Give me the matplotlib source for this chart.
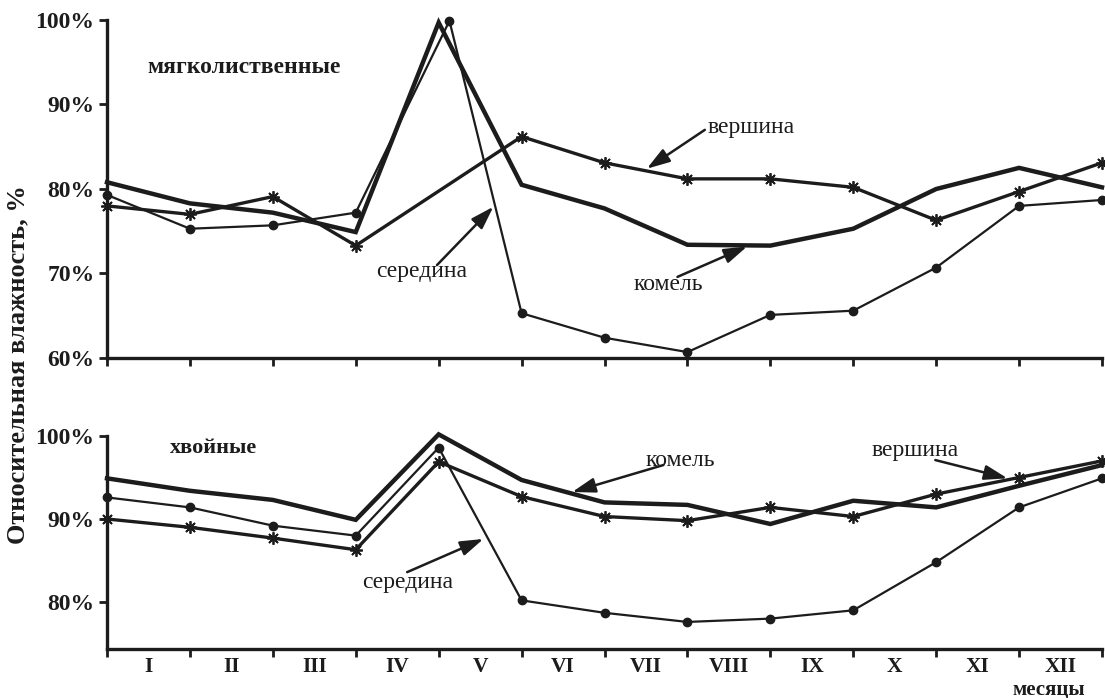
import matplotlib.pyplot as plt

# ----------------------------
# Data (month boundaries 0..12)
# ----------------------------
months = ["I", "II", "III", "IV", "V", "VI", "VII", "VIII", "IX", "X", "XI", "XII"]

# мягколиственные
soft_x = [0, 1, 2, 3, 4, 5, 6, 7, 8, 9, 10, 11, 12]
soft_komel = [80.8, 78.3, 77.2, 74.9, 99.7, 80.5, 77.7, 73.4, 73.3, 75.3, 80.0, 82.5, 80.2]
soft_mid_x = [0, 1, 2, 3, 4.13, 5, 6, 7, 8, 9, 10, 11, 12]
soft_mid = [79.3, 75.3, 75.7, 77.2, 99.9, 65.3, 62.4, 60.7, 65.1, 65.6, 70.7, 78.0, 78.7]
soft_top_x = [0, 1, 2, 3, 5, 6, 7, 8, 9, 10, 11, 12]
soft_top = [78.0, 77.0, 79.1, 73.3, 86.2, 83.1, 81.2, 81.2, 80.2, 76.3, 79.7, 83.1]

# хвойные
con_x = [0, 1, 2, 3, 4, 5, 6, 7, 8, 9, 10, 11, 12]
con_komel = [94.9, 93.4, 92.3, 89.9, 100.2, 94.7, 92.0, 91.7, 89.4, 92.2, 91.4, 94.0, 96.5]
con_mid = [92.6, 91.4, 89.2, 88.0, 98.6, 80.2, 78.7, 77.6, 78.0, 79.0, 84.8, 91.4, 94.9]
con_top = [90.0, 89.0, 87.7, 86.3, 96.9, 92.7, 90.3, 89.8, 91.4, 90.3, 93.0, 95.0, 97.0]

INK = "#1c1c1c"
plt.rcParams["font.family"] = ["Liberation Serif", "DejaVu Serif"]

fig = plt.figure(figsize=(11.05, 6.98), dpi=100)
ax1 = fig.add_axes([107 / 1105, 1 - 358 / 698, 995 / 1105, 338 / 698])
ax2 = fig.add_axes([107 / 1105, 1 - 649 / 698, 995 / 1105, 213 / 698])

star = (8, 2, 0)


def style_axis(ax, ylim, yticks):
    ax.set_xlim(0, 12)
    ax.set_ylim(*ylim)
    for s in ["top", "right"]:
        ax.spines[s].set_visible(False)
    for s in ["left", "bottom"]:
        ax.spines[s].set_linewidth(2.4)
        ax.spines[s].set_color(INK)
    ax.set_xticks(range(13))
    ax.set_yticks(yticks)
    ax.set_yticklabels([f"{v}%" for v in yticks])
    ax.tick_params(axis="both", which="major", direction="out", length=6,
                   width=2, color=INK)
    ax.tick_params(axis="y", labelsize=17, pad=3, labelcolor=INK)
    for lab in ax.get_yticklabels():
        lab.set_fontweight("bold")


def draw(ax, xk, yk, xm, ym, xt, yt):
    ax.plot(xk, yk, color=INK, lw=3.2, clip_on=False, zorder=3,
            solid_joinstyle="miter")
    ax.plot(xm, ym, color=INK, lw=1.6, marker="o", ms=6, clip_on=False, zorder=4)
    ax.plot(xt, yt, color=INK, lw=2.4, marker=star, ms=9, mew=1.3,
            clip_on=False, zorder=4)


def note(ax, text, xy, xytext, tail):
    ax.text(xytext[0], xytext[1], text, ha="center", va="center",
            fontsize=17, color=INK)
    ax.annotate("", xy=xy, xytext=tail,
                arrowprops=dict(arrowstyle="-|>,head_length=1.4,head_width=0.45",
                                color=INK, lw=1.8, shrinkA=0, shrinkB=0))


# top panel
style_axis(ax1, (60, 100), [60, 70, 80, 90, 100])
ax1.set_xticklabels([])
draw(ax1, soft_x, soft_komel, soft_mid_x, soft_mid, soft_top_x, soft_top)
ax1.text(1.65, 94.4, "мягколиственные", ha="center", va="center",
         fontsize=17, fontweight="bold", color=INK)
note(ax1, "вершина", (6.51, 82.4), (7.77, 87.3), (7.21, 87.0))
note(ax1, "середина", (4.66, 77.9), (3.79, 70.2), (3.98, 71.0))
note(ax1, "комель", (7.72, 73.2), (6.77, 68.7), (6.88, 69.6))

# bottom panel
style_axis(ax2, (74.34, 100), [80, 90, 100])
ax2.set_xticklabels([])
ax2.set_xticks([i + 0.5 for i in range(12)], minor=True)
ax2.set_xticklabels(months, minor=True)
ax2.tick_params(axis="x", which="minor", length=0, pad=6, labelsize=15.5,
                labelcolor=INK)
for lab in ax2.get_xticklabels(minor=True):
    lab.set_fontweight("bold")
draw(ax2, con_x, con_komel, con_x, con_mid, con_x, con_top)
ax2.text(1.28, 98.55, "хвойные", ha="center", va="center",
         fontsize=16, fontweight="bold", color=INK)
note(ax2, "комель", (5.61, 93.25), (6.91, 97.1), (6.71, 96.5))
note(ax2, "вершина", (10.86, 94.9), (9.75, 98.3), (9.99, 97.1))
note(ax2, "середина", (4.54, 87.6), (3.63, 82.4), (3.62, 83.6))

fig.text(1049 / 1105, 1 - 689 / 698, "месяцы", ha="center", va="center",
         fontsize=15, fontweight="bold", color=INK)
fig.text(18 / 1105, 1 - 365 / 698, "Относительная влажность, %", rotation=90,
         ha="center", va="center", fontsize=19, fontweight="bold", color=INK)

fig.savefig("out.png", dpi=100, facecolor="white")
